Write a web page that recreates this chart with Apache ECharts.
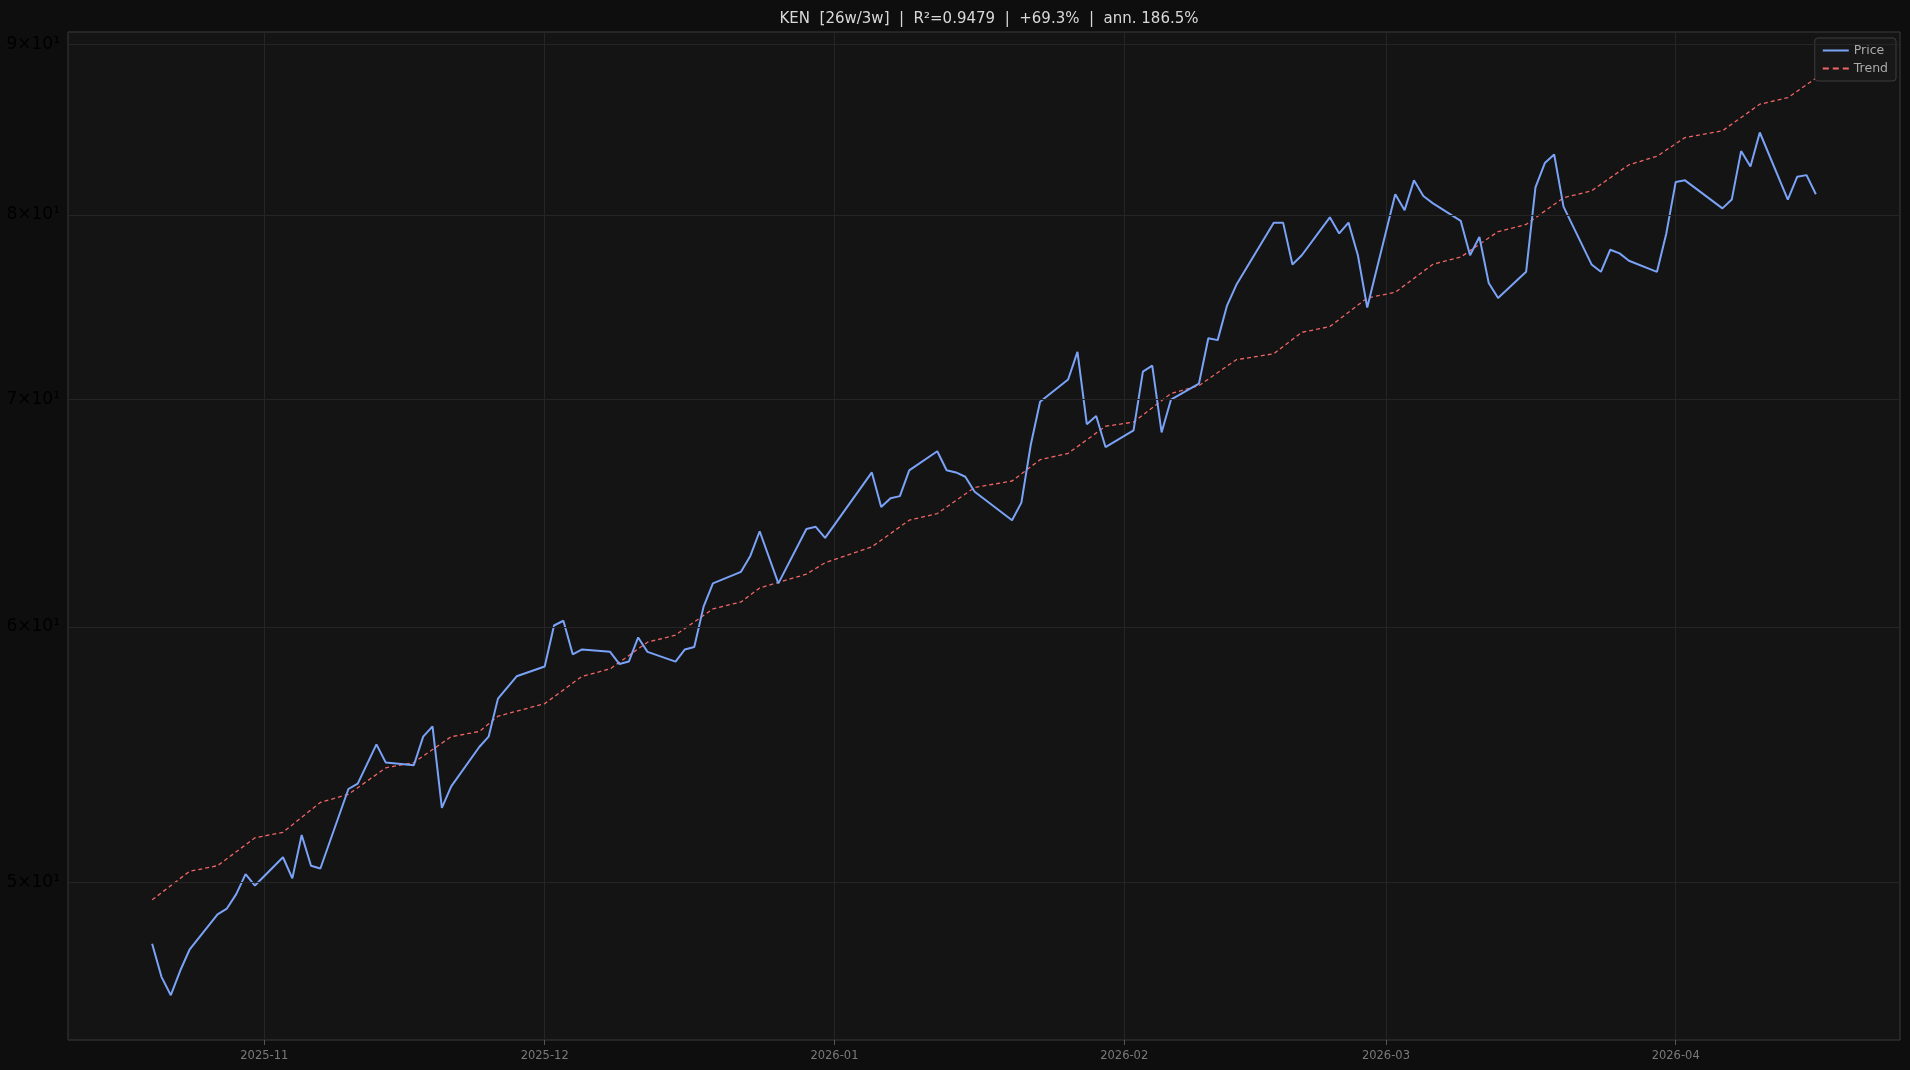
<!DOCTYPE html>
<html lang="en">
<head>
  <meta charset="UTF-8" />
  <title>KEN trend</title>
  <script src="https://cdn.jsdelivr.net/npm/echarts@6.0.0/dist/echarts.min.js"></script>
  <style>
    html, body { margin: 0; background: #0e0e0e; }
    #chart { width: 1910px; height: 1070px; }
  </style>
</head>
<body>
  <div id="chart"></div>
  <script>
    const priceDates = ['2025-10-20','2025-10-21','2025-10-22','2025-10-23','2025-10-24','2025-10-27','2025-10-28','2025-10-29','2025-10-30','2025-10-31',
      '2025-11-03','2025-11-04','2025-11-05','2025-11-06','2025-11-07','2025-11-10','2025-11-11','2025-11-13','2025-11-14','2025-11-17',
      '2025-11-18','2025-11-19','2025-11-20','2025-11-21','2025-11-24','2025-11-25','2025-11-26','2025-11-28','2025-12-01','2025-12-02',
      '2025-12-03','2025-12-04','2025-12-05','2025-12-08','2025-12-09','2025-12-10','2025-12-11','2025-12-12','2025-12-15','2025-12-16',
      '2025-12-17','2025-12-18','2025-12-19','2025-12-22','2025-12-23','2025-12-24','2025-12-26','2025-12-29','2025-12-30','2025-12-31',
      '2026-01-05','2026-01-06','2026-01-07','2026-01-08','2026-01-09','2026-01-12','2026-01-13','2026-01-14','2026-01-15','2026-01-16',
      '2026-01-20','2026-01-21','2026-01-22','2026-01-23','2026-01-26','2026-01-27','2026-01-28','2026-01-29','2026-01-30','2026-02-02',
      '2026-02-03','2026-02-04','2026-02-05','2026-02-06','2026-02-09','2026-02-10','2026-02-11','2026-02-12','2026-02-13','2026-02-17',
      '2026-02-18','2026-02-19','2026-02-20','2026-02-23','2026-02-24','2026-02-25','2026-02-26','2026-02-27','2026-03-02','2026-03-03',
      '2026-03-04','2026-03-05','2026-03-06','2026-03-09','2026-03-10','2026-03-11','2026-03-12','2026-03-13','2026-03-16','2026-03-17',
      '2026-03-18','2026-03-19','2026-03-20','2026-03-23','2026-03-24','2026-03-25','2026-03-26','2026-03-27','2026-03-30','2026-03-31',
      '2026-04-01','2026-04-02','2026-04-06','2026-04-07','2026-04-08','2026-04-09','2026-04-10','2026-04-13','2026-04-14','2026-04-15','2026-04-16'];
    const priceValues = [47.8,46.7,46.1,46.9,47.6,48.8,49.0,49.5,50.2,49.8,
      50.8,50.05,51.6,50.5,50.4,53.3,53.5,55.0,54.3,54.2,
      55.3,55.7,52.6,53.4,54.9,55.3,56.8,57.7,58.1,59.8,
      60.0,58.6,58.8,58.7,58.2,58.3,59.3,58.7,58.3,58.8,
      58.9,60.6,61.6,62.1,62.8,63.9,61.6,64.0,64.1,63.6,
      66.6,65.0,65.4,65.5,66.7,67.6,66.7,66.6,66.4,65.7,
      64.4,65.2,67.9,70.0,71.1,72.5,68.9,69.3,67.8,68.6,
      71.5,71.8,68.5,70.1,70.9,73.2,73.1,74.9,76.0,79.4,
      79.4,77.1,77.6,79.7,78.8,79.4,77.6,74.8,81.0,80.1,
      81.8,80.9,80.5,79.5,77.6,78.6,76.1,75.3,76.7,81.4,
      82.8,83.3,80.3,77.1,76.7,77.9,77.7,77.3,76.7,78.8,
      81.7,81.8,80.2,80.7,83.5,82.6,84.6,80.7,82.0,82.1,81.0];
    const trendDates = ['2025-10-20','2025-10-24','2025-10-27','2025-10-31','2025-11-03','2025-11-07','2025-11-10','2025-11-14','2025-11-17','2025-11-21',
      '2025-11-24','2025-11-26','2025-11-28','2025-12-01','2025-12-05','2025-12-08','2025-12-12','2025-12-15','2025-12-19','2025-12-22',
      '2025-12-24','2025-12-29','2025-12-31','2026-01-05','2026-01-09','2026-01-12','2026-01-16','2026-01-20','2026-01-23','2026-01-26',
      '2026-01-30','2026-02-02','2026-02-06','2026-02-09','2026-02-13','2026-02-17','2026-02-20','2026-02-23','2026-02-27','2026-03-02',
      '2026-03-06','2026-03-09','2026-03-13','2026-03-16','2026-03-20','2026-03-23','2026-03-27','2026-03-30','2026-04-02','2026-04-06',
      '2026-04-10','2026-04-13','2026-04-16'];
    const trendValues = [49.3,50.3,50.5,51.5,51.7,52.8,53.1,54.1,54.3,55.3,
      55.5,56.1,56.3,56.6,57.7,58.0,59.1,59.4,60.5,60.8,
      61.4,62.0,62.5,63.2,64.4,64.7,65.9,66.2,67.2,67.5,
      68.8,69.0,70.4,70.8,72.1,72.4,73.5,73.8,75.3,75.6,
      77.1,77.5,78.9,79.3,80.8,81.2,82.7,83.2,84.3,84.7,
      86.3,86.7,87.9];
    const yTicks = [50, 60, 70, 80, 90];
    const yTickLabels = ['5\u00d710\u00b9', '6\u00d710\u00b9', '7\u00d710\u00b9', '8\u00d710\u00b9', '9\u00d710\u00b9'];
    const title = 'KEN  [26w/3w]  |  R\u00b2=0.9479  |  +69.3%  |  ann. 186.5%';

    // log scale: plot ln(price) on a value axis
    const toPts = (d, v) => d.map((x, i) => [x, Math.log(v[i])]);

    const chart = echarts.init(document.getElementById('chart'));
    chart.setOption({
      backgroundColor: '#0e0e0e',
      animation: false,
      textStyle: { fontFamily: 'DejaVu Sans' },
      title: {
        text: title, left: 984, textAlign: 'center', top: 7,
        textStyle: { color: '#d8d8d8', fontSize: 15, fontWeight: 'normal' }
      },
      legend: {
        right: 14, top: 38, orient: 'vertical', itemGap: 5,
        itemWidth: 26, itemHeight: 10,
        backgroundColor: '#181818', borderColor: '#3c3c3c', borderWidth: 1, borderRadius: 3,
        padding: [6, 8],
        textStyle: { color: '#aaaaaa', fontSize: 12.5 },
        data: [
          { name: 'Price', icon: 'path://M0,4 L26,4 L26,6 L0,6 Z' },
          { name: 'Trend', icon: 'path://M0,4 L6,4 L6,6 L0,6 Z M10,4 L16,4 L16,6 L10,6 Z M20,4 L26,4 L26,6 L20,6 Z' }
        ]
      },
      grid: {
        left: 68, right: 10, top: 32, bottom: 30,
        show: true, backgroundColor: '#141414', borderColor: '#3a3a3a', borderWidth: 1
      },
      xAxis: {
        type: 'time',
        min: '2025-10-11', max: '2026-04-25',
        axisLine: { show: false },
        axisTick: { show: true, length: 5, lineStyle: { color: '#555' } },
        axisLabel: {
          color: '#7a7a7a', fontSize: 11.5, margin: 10,
          formatter: v => { const d = new Date(v); return d.getDate() === 1 ? echarts.time.format(v, '{yyyy}-{MM}', false) : ''; }
        },
        splitNumber: 7,
        splitLine: { show: true, lineStyle: { color: '#252525' } }
      },
      yAxis: {
        type: 'value',
        min: Math.log(44.67), max: Math.log(90.8),
        axisLine: { show: false }, axisTick: { show: false },
        axisLabel: { show: false }, splitLine: { show: false }
      },
      series: [
        {
          name: 'Price', type: 'line', showSymbol: false, z: 3,
          data: toPts(priceDates, priceValues),
          lineStyle: { color: '#7aa2f7', width: 2 }, itemStyle: { color: '#7aa2f7' },
          markLine: {
            silent: true, symbol: 'none', animation: false,
            lineStyle: { color: '#252525', type: 'solid', width: 1 },
            label: {
              position: 'start', distance: 8, color: '#000000', fontSize: 17,
              formatter: p => yTickLabels[p.dataIndex]
            },
            data: yTicks.map(t => ({ yAxis: Math.log(t) }))
          }
        },
        {
          name: 'Trend', type: 'line', showSymbol: false, z: 2,
          data: toPts(trendDates, trendValues),
          lineStyle: { color: '#f06565', width: 1.3, type: [4, 3] }, itemStyle: { color: '#f06565' }
        }
      ]
    });
  </script>
</body>
</html>
